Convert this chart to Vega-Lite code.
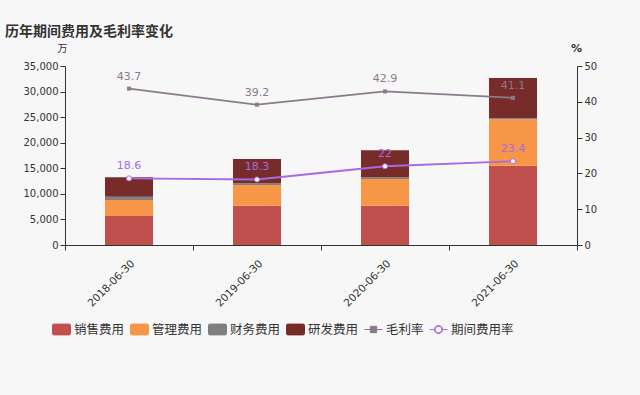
{
  "$schema": "https://vega.github.io/schema/vega-lite/v6.json",
  "width": 512,
  "height": 179,
  "autosize": {"type": "none"},
  "padding": {"left": 65, "top": 66, "right": 63, "bottom": 150},
  "background": "#f7f7f7",
  "title": {
    "text": "历年期间费用及毛利率变化",
    "anchor": "start",
    "frame": "group",
    "dx": -60,
    "offset": 3,
    "fontSize": 14,
    "fontWeight": "bold",
    "color": "#333333",
    "font": "DejaVu Sans, Noto Sans CJK SC"
  },
  "config": {
    "view": {"stroke": null},
    "font": "DejaVu Sans, Noto Sans CJK SC",
    "axis": {
      "domainColor": "#333333",
      "tickColor": "#333333",
      "labelColor": "#333333",
      "labelFontSize": 10,
      "titleColor": "#333333",
      "grid": false,
      "tickSize": 5
    }
  },
  "datasets": {
    "cost": [
      {"date": "2018-06-30", "type": "销售费用", "value": 5670},
      {"date": "2018-06-30", "type": "管理费用", "value": 3130},
      {"date": "2018-06-30", "type": "财务费用", "value": 650},
      {"date": "2018-06-30", "type": "研发费用", "value": 3790},
      {"date": "2019-06-30", "type": "销售费用", "value": 7680},
      {"date": "2019-06-30", "type": "管理费用", "value": 4050},
      {"date": "2019-06-30", "type": "财务费用", "value": 330},
      {"date": "2019-06-30", "type": "研发费用", "value": 4750},
      {"date": "2020-06-30", "type": "销售费用", "value": 7680},
      {"date": "2020-06-30", "type": "管理费用", "value": 5220},
      {"date": "2020-06-30", "type": "财务费用", "value": 330},
      {"date": "2020-06-30", "type": "研发费用", "value": 5280},
      {"date": "2021-06-30", "type": "销售费用", "value": 15500},
      {"date": "2021-06-30", "type": "管理费用", "value": 9070},
      {"date": "2021-06-30", "type": "财务费用", "value": 200},
      {"date": "2021-06-30", "type": "研发费用", "value": 7880}
    ],
    "rate": [
      {"date": "2018-06-30", "type": "毛利率", "rate": 43.7},
      {"date": "2019-06-30", "type": "毛利率", "rate": 39.2},
      {"date": "2020-06-30", "type": "毛利率", "rate": 42.9},
      {"date": "2021-06-30", "type": "毛利率", "rate": 41.1},
      {"date": "2018-06-30", "type": "期间费用率", "rate": 18.6},
      {"date": "2019-06-30", "type": "期间费用率", "rate": 18.3},
      {"date": "2020-06-30", "type": "期间费用率", "rate": 22},
      {"date": "2021-06-30", "type": "期间费用率", "rate": 23.4}
    ]
  },
  "layer": [
    {
      "data": {"name": "cost"},
      "mark": {"type": "bar", "size": 48},
      "encoding": {
        "x": {
          "field": "date",
          "type": "nominal",
          "scale": {"paddingInner": 0, "paddingOuter": 0},
          "axis": {"title": null, "labelAngle": -45, "tickBand": "extent", "labelPadding": 8, "labelFontSize": 10.5}
        },
        "y": {
          "field": "value",
          "type": "quantitative",
          "stack": "zero",
          "scale": {"domain": [0, 35000]},
          "axis": {
            "orient": "left",
            "values": [0, 5000, 10000, 15000, 20000, 25000, 30000, 35000],
            "format": ",.0f",
            "title": "万",
            "titleAngle": 0,
            "titleX": -3,
            "titleY": -18,
            "titleAlign": "center",
            "titleBaseline": "middle",
            "titleFontSize": 10,
            "titleFontWeight": "normal"
          }
        },
        "order": {"field": "date", "type": "nominal"},
        "color": {
          "field": "type",
          "type": "nominal",
          "scale": {
            "domain": ["销售费用", "管理费用", "财务费用", "研发费用", "毛利率", "期间费用率"],
            "range": ["#c0504d", "#f79646", "#7f7f7f", "#772c2a", "#8a7a8c", "#a86ae0"]
          },
          "legend": {
            "title": null,
            "orient": "none",
            "legendX": -13,
            "legendY": 254,
            "direction": "horizontal",
            "columns": 6,
            "gridAlign": "none",
            "symbolSize": 324,
            "labelFontSize": 12.5,
            "labelColor": "#333333",
            "labelOffset": 3,
            "columnPadding": 3,
            "encode": {
              "symbols": {
                "update": {
                  "shape": {"signal": "datum.value === '毛利率' ? 'M-1,0L-0.35,0M0.35,0L1,0M-0.35,-0.35L0.35,-0.35L0.35,0.35L-0.35,0.35Z' : datum.value === '期间费用率' ? 'M-1,0L-0.45,0M0.45,0L1,0M0.45,0L0.39,0.225L0.225,0.39L0,0.45L-0.225,0.39L-0.39,0.225L-0.45,0L-0.39,-0.225L-0.225,-0.39L0,-0.45L0.225,-0.39L0.39,-0.225ZM0.38,0L0.329,-0.19L0.19,-0.329L0,-0.38L-0.19,-0.329L-0.329,-0.19L-0.38,0L-0.329,0.19L-0.19,0.329L0,0.38L0.19,0.329L0.329,0.19Z' : 'M-0.85,-0.6L0.85,-0.6Q1,-0.6 1,-0.45L1,0.45Q1,0.6 0.85,0.6L-0.85,0.6Q-1,0.6 -1,0.45L-1,-0.45Q-1,-0.6 -0.85,-0.6Z'"},
                  "fill": {"signal": "datum.value === '期间费用率' ? '#ffffff' : scale('color', datum.value)"},
                  "stroke": {"signal": "datum.value === '毛利率' || datum.value === '期间费用率' ? scale('color', datum.value) : 'transparent'"},
                  "strokeWidth": {"value": 1},
                  "opacity": {"value": 1},
                  "fillOpacity": {"value": 1}
                }
              }
            }
          }
        }
      }
    },
    {
      "data": {"name": "rate"},
      "encoding": {
        "x": {"field": "date", "type": "nominal"},
        "y": {
          "field": "rate",
          "type": "quantitative",
          "scale": {"domain": [0, 50]},
          "axis": {
            "orient": "right",
            "values": [0, 10, 20, 30, 40, 50],
            "title": "%",
            "titleAngle": 0,
            "titleX": -1,
            "titleY": -18,
            "titleAlign": "center",
            "titleBaseline": "middle",
            "titleFontSize": 11,
            "titleFontWeight": "bold"
          }
        },
        "color": {"field": "type", "type": "nominal"}
      },
      "layer": [
        {"mark": {"type": "line", "strokeWidth": 1.8}},
        {
          "transform": [{"filter": "datum.type === '毛利率'"}],
          "mark": {"type": "point", "shape": "square", "filled": true, "size": 16, "opacity": 1}
        },
        {
          "transform": [{"filter": "datum.type === '期间费用率'"}],
          "mark": {"type": "point", "shape": "circle", "filled": false, "fill": "#ffffff", "fillOpacity": 1, "size": 26, "strokeWidth": 1, "opacity": 1}
        },
        {
          "mark": {"type": "text", "dy": -12, "fontSize": 11},
          "encoding": {"text": {"field": "rate", "type": "quantitative"}}
        }
      ]
    }
  ],
  "resolve": {"scale": {"y": "independent"}}
}
